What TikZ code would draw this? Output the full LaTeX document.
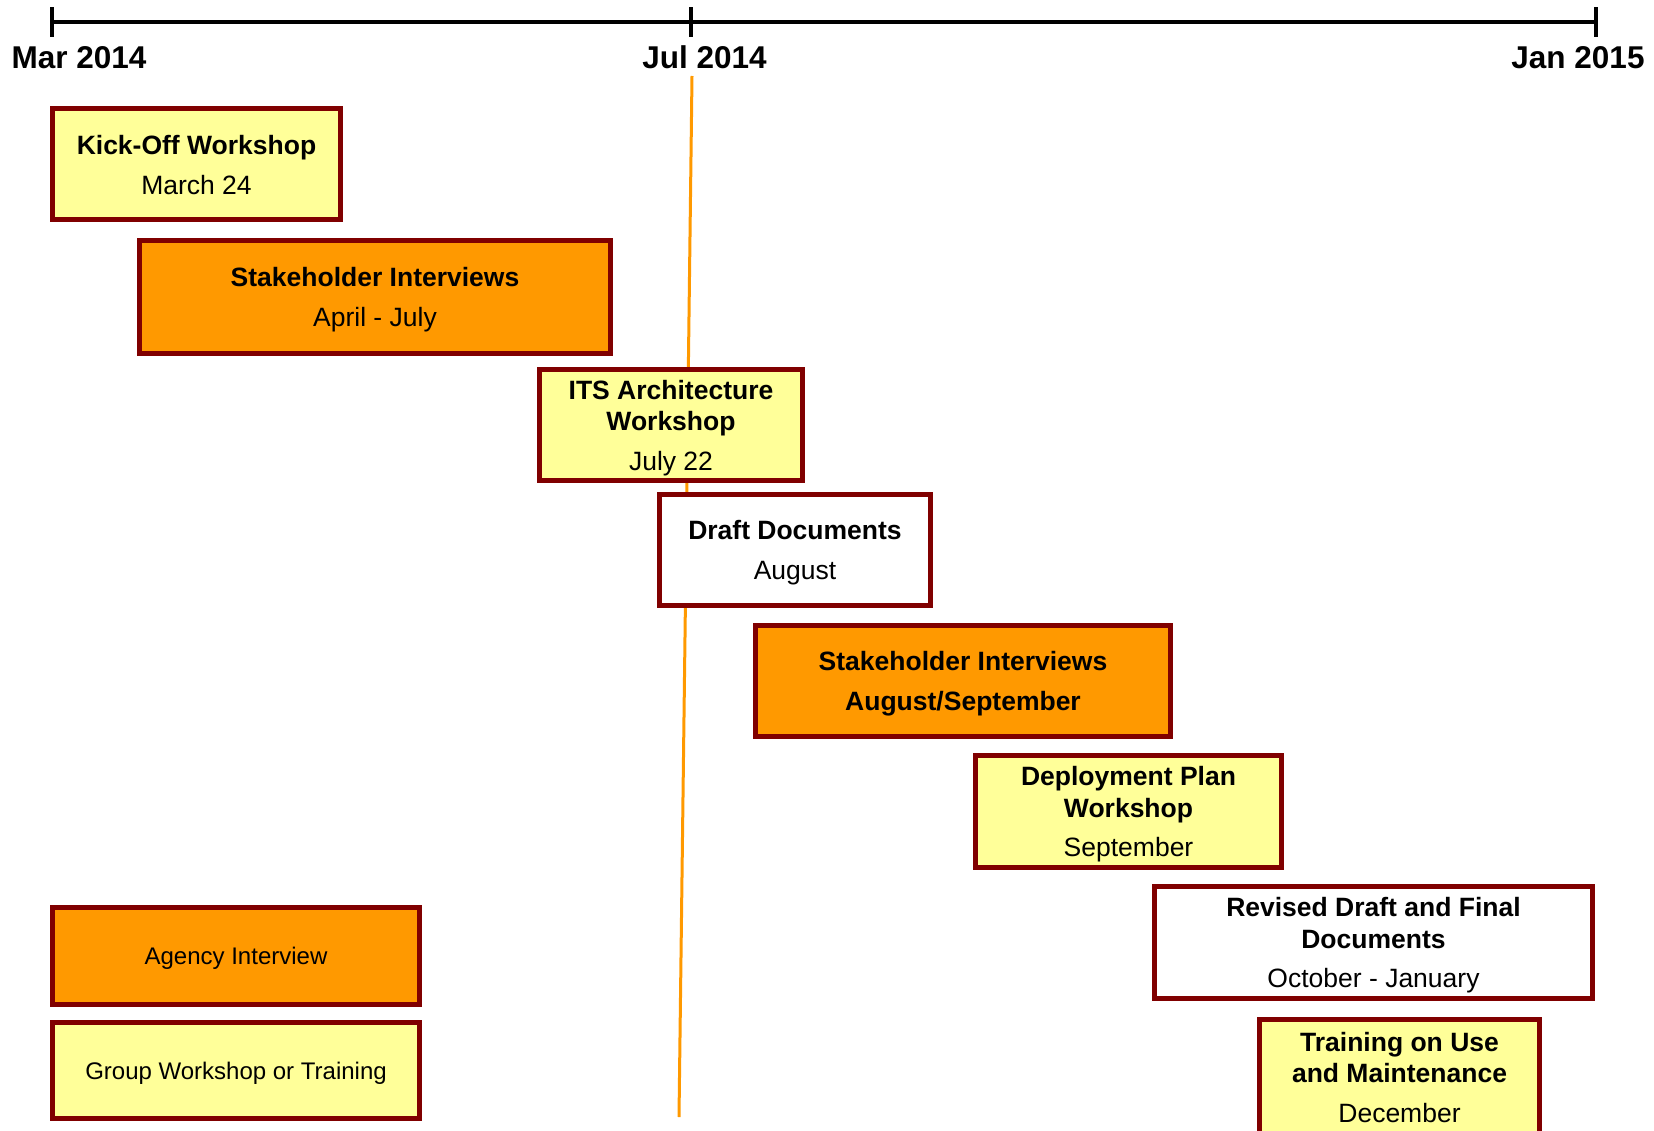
\documentclass[tikz,border=0pt]{standalone}
\usepackage{fontspec}
\setmainfont{Liberation Sans}
\definecolor{brd}{HTML}{800000}
\definecolor{org}{HTML}{FF9900}
\definecolor{ylw}{HTML}{FFFF99}
\begin{document}
\begin{tikzpicture}[x=1pt,y=-1pt,
  evbox/.style={draw=brd, line width=5pt, align=center, inner sep=0pt, text depth=0pt, font=\fontsize{26.5}{31.5}\selectfont},
  wsbox/.style={evbox, fill=ylw},
  ivbox/.style={evbox, fill=org},
  docbox/.style={evbox, fill=white},
  legbox/.style={evbox, font=\fontsize{24}{29}\selectfont},
  axislbl/.style={anchor=base, inner sep=0pt, font=\fontsize{31.5}{36}\selectfont\bfseries},
  axisline/.style={line width=3.5pt, black},
  nowline/.style={line width=3pt, org}
]
\useasboundingbox (0,0) rectangle (1654,1131);
% axis
\coordinate (tmar) at (52,22);
\coordinate (tjul) at (691,22);
\coordinate (tjan) at (1596,22);
\draw[axisline] (tmar) -- (tjan);
\draw[axisline] ([yshift=-15pt]tmar) -- ([yshift=15pt]tmar);
\draw[axisline] ([yshift=-15pt]tjul) -- ([yshift=15pt]tjul);
\draw[axisline] ([yshift=-15pt]tjan) -- ([yshift=15pt]tjan);
\node[axislbl] (lmar) at (79,69) {Mar 2014};
\node[axislbl] (ljul) at (704.5,69) {Jul 2014};
\node[axislbl] (ljan) at (1578,69) {Jan 2015};
% current-date line
\coordinate (nowtop) at (692,76);
\coordinate (nowbot) at (679,1117);
\draw[nowline] (nowtop) -- (nowbot);
% events
\node[wsbox, minimum width=288, minimum height=111] (kick) at (196.5,164.5)
  {\textbf{Kick-Off Workshop}\\[8.5pt]March 24};
\node[ivbox, minimum width=471, minimum height=113] (si1) at (375,297)
  {\textbf{Stakeholder Interviews}\\[8.5pt]April - July};
\node[wsbox, minimum width=263, minimum height=111] (its) at (671,425)
  {\textbf{ITS Architecture}\\\textbf{Workshop}\\[8pt]July 22};
\node[docbox, minimum width=271, minimum height=111] (draft) at (795,550)
  {\textbf{Draft Documents}\\[8.5pt]August};
\node[ivbox, minimum width=415, minimum height=111] (si2) at (963,681)
  {\textbf{Stakeholder Interviews}\\[8pt]\textbf{August/September}};
\node[wsbox, minimum width=306, minimum height=112] (depl) at (1128.5,811.5)
  {\textbf{Deployment Plan}\\\textbf{Workshop}\\[8pt]September};
\node[docbox, minimum width=438, minimum height=112] (rev) at (1373.5,942.5)
  {\textbf{Revised Draft and Final}\\\textbf{Documents}\\[8pt]October - January};
\node[wsbox, minimum width=280, minimum height=115] (train) at (1399.5,1077)
  {\textbf{Training on Use}\\\textbf{and Maintenance}\\[8pt]December};
% legend
\node[legbox, fill=org, minimum width=367, minimum height=97] (legiv) at (236,956) {Agency Interview};
\node[legbox, fill=ylw, minimum width=367, minimum height=96] (legws) at (236,1070.5) {Group Workshop or Training};
\end{tikzpicture}
\end{document}
